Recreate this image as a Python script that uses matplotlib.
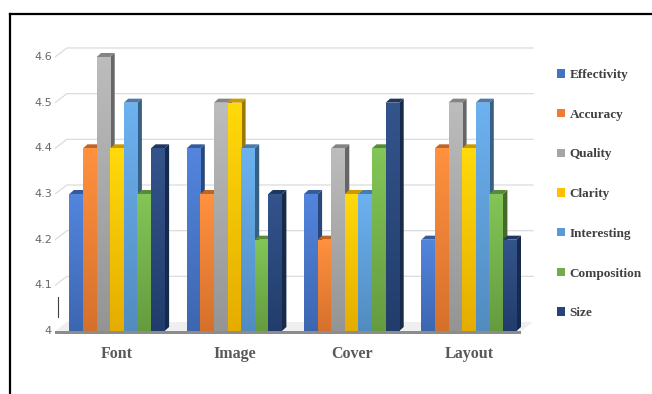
import matplotlib.pyplot as plt
import numpy as np
from matplotlib.patches import Polygon, Patch
from matplotlib.lines import Line2D
from matplotlib.colors import to_rgb, LinearSegmentedColormap

# survey scores per category (4 = floor of the scale)
categories = ['Font', 'Image', 'Cover', 'Layout']
series = ['Effectivity', 'Accuracy', 'Quality', 'Clarity', 'Interesting', 'Composition', 'Size']
effectivity = [4.3, 4.4, 4.3, 4.2]
accuracy = [4.4, 4.3, 4.2, 4.4]
quality = [4.6, 4.5, 4.4, 4.5]
clarity = [4.4, 4.5, 4.3, 4.4]
interesting = [4.5, 4.4, 4.3, 4.5]
composition = [4.3, 4.2, 4.4, 4.3]
size = [4.4, 4.3, 4.5, 4.2]
yticks = [4, 4.1, 4.2, 4.3, 4.4, 4.5, 4.6]

values = [effectivity, accuracy, quality, clarity, interesting, composition, size]
colors = ['#4472C4', '#ED7D31', '#A5A5A5', '#FFC000', '#5B9BD5', '#70AD47', '#264478']

W, H = 652, 394
fig = plt.figure(figsize=(W / 100, H / 100), dpi=100)
fig.patch.set_facecolor('white')

# axes placed in pixels, 3d look is faked with offsets
ax_l, ax_r = 55, 540
ax_b, ax_t = 331, 11.3
ax = fig.add_axes([ax_l / W, (H - ax_b) / H, (ax_r - ax_l) / W, (ax_b - ax_t) / H])
px_x = 117.3           # pixels per category
px_y = 456.7           # pixels per 1.0 of score
x0 = (ax_l - 117) / px_x
ax.set_xlim(x0, x0 + (ax_r - ax_l) / px_x)
ax.set_ylim(4, 4 + (ax_b - ax_t) / px_y)
ax.axis('off')

bw = 13.6 / px_x
bdx, bdy = 4.5 / px_x, 4 / px_y          # depth of a bar
wdx, wdy = 12 / px_x, 9 / px_y           # depth of the back wall
xr = (533 - 117) / px_x

# back wall grid lines with the slanted left edge
for v in yticks[1:]:
    ax.plot([x0, x0 + wdx, xr], [v, v + wdy, v + wdy], color='#dcdcdc', lw=0.9, zorder=1)

# floor slab: pale top, darker front edge
ax.add_patch(Polygon([(x0, 4), (xr - wdx, 4), (xr, 4 + wdy), (x0 + wdx, 4 + wdy)],
                     closed=True, fc='#efefef', ec='none', zorder=1))
ax.add_patch(Polygon([(x0, 4), (xr - wdx, 4), (xr - wdx, 4 - 3 / px_y), (x0, 4 - 3 / px_y)],
                     closed=True, fc='#8c8c8c', ec='none', zorder=1, clip_on=False))


def shade(c, f):
    r, g, b = to_rgb(c)
    return (r * f, g * f, b * f)


x = np.arange(len(categories))
grad = np.linspace(1, 0, 64).reshape(-1, 1)
z = 2
for i in range(len(categories)):
    for j, (vals, c) in enumerate(zip(values, colors)):
        left = x[i] + (j - 3.5) * bw
        v = vals[i]
        side = [(left + bw, 4), (left + bw + bdx, 4 + bdy), (left + bw + bdx, v + bdy), (left + bw, v)]
        top = [(left, v), (left + bw, v), (left + bw + bdx, v + bdy), (left + bdx, v + bdy)]
        ax.add_patch(Polygon(side, closed=True, fc=shade(c, 0.62), ec='none', zorder=z))
        ax.add_patch(Polygon(top, closed=True, fc=shade(c, 0.8), ec='none', zorder=z + 1))
        bars = ax.bar(left, v - 4, bottom=4, width=bw, align='edge', color=c, zorder=z + 2)
        # soft vertical gradient on the front face
        cmap = LinearSegmentedColormap.from_list(
            'g', [shade(c, 0.9), tuple(min(1, k * 1.08 + 0.04) for k in to_rgb(c))])
        im = ax.imshow(grad, extent=(left, left + bw, 4, v), aspect='auto', cmap=cmap,
                       zorder=z + 3, interpolation='bilinear')
        im.set_clip_path(bars.patches[0])
        z += 4

# y tick labels
for v in yticks:
    ax.text(x0 - 3 / px_x, v, f'{v:g}', ha='right', va='center', fontsize=8,
            color='#666666', family='DejaVu Sans')

# category labels
for i, name in enumerate(categories):
    ax.text(x[i], 4 - 23 / px_y, name, ha='center', va='center', fontsize=11.5,
            fontweight='bold', color='#595959', family='Liberation Serif')

# stray tick near the left wall
fig.add_artist(Line2D([58 / W, 58 / W], [1 - 297 / H, 1 - 317 / H], color='#404040', lw=0.8))

handles = [Patch(facecolor=c, edgecolor='none') for c in colors]
fig.legend(handles, series, loc='upper left', bbox_to_anchor=(557 / W, 1 - 69 / H),
           frameon=False, prop={'family': 'Liberation Serif', 'weight': 'bold', 'size': 9.5},
           labelcolor='#404040', handlelength=0.6, handleheight=0.6, handletextpad=0.35,
           labelspacing=2.1, borderpad=0, borderaxespad=0)

# chart border (left and top edges)
fig.add_artist(Line2D([9.5 / W, 9.5 / W], [0, 1 - 14 / H], color='black', lw=1.6))
fig.add_artist(Line2D([9.5 / W, 1], [1 - 14 / H, 1 - 14 / H], color='black', lw=1.6))

fig.savefig('out.png', dpi=100)
